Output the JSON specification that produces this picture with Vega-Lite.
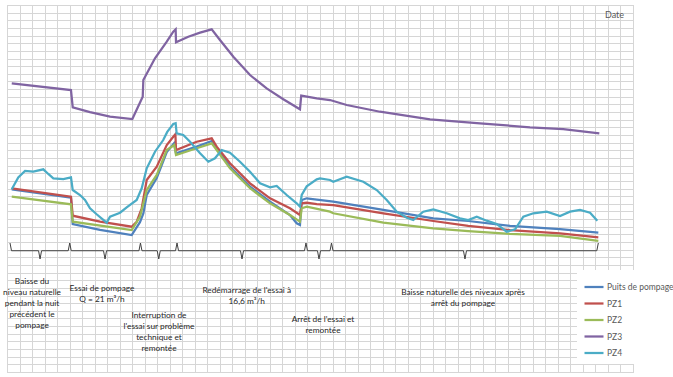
{
  "$schema": "https://vega.github.io/schema/vega-lite/v6.json",
  "width": 626,
  "height": 367,
  "autosize": {"type": "none"},
  "padding": {"left": 7, "top": 5, "right": 40, "bottom": 5},
  "background": "white",
  "config": {
    "view": {"stroke": "#c4c4c4", "strokeWidth": 1},
    "font": "Lato"
  },
  "datasets": {
    "series": [
      {"serie": "Puits de pompage", "t": 0.38, "niveau": 23.9},
      {"serie": "Puits de pompage", "t": 5.11, "niveau": 22.8},
      {"serie": "Puits de pompage", "t": 5.25, "niveau": 19.36},
      {"serie": "Puits de pompage", "t": 7.43, "niveau": 18.6},
      {"serie": "Puits de pompage", "t": 9.96, "niveau": 17.92},
      {"serie": "Puits de pompage", "t": 10.62, "niveau": 19.6},
      {"serie": "Puits de pompage", "t": 10.89, "niveau": 20.74},
      {"serie": "Puits de pompage", "t": 11.16, "niveau": 23.15},
      {"serie": "Puits de pompage", "t": 11.96, "niveau": 25.37},
      {"serie": "Puits de pompage", "t": 12.76, "niveau": 28.77},
      {"serie": "Puits de pompage", "t": 13.34, "niveau": 29.91},
      {"serie": "Puits de pompage", "t": 13.5, "niveau": 28.6},
      {"serie": "Puits de pompage", "t": 15.15, "niveau": 29.47},
      {"serie": "Puits de pompage", "t": 16.35, "niveau": 30.21},
      {"serie": "Puits de pompage", "t": 16.75, "niveau": 29.3},
      {"serie": "Puits de pompage", "t": 17.81, "niveau": 26.85},
      {"serie": "Puits de pompage", "t": 19.41, "niveau": 24.24},
      {"serie": "Puits de pompage", "t": 21.01, "niveau": 22.27},
      {"serie": "Puits de pompage", "t": 22.6, "niveau": 20.53},
      {"serie": "Puits de pompage", "t": 23.14, "niveau": 19.45},
      {"serie": "Puits de pompage", "t": 23.4, "niveau": 19.23},
      {"serie": "Puits de pompage", "t": 23.54, "niveau": 22.5},
      {"serie": "Puits de pompage", "t": 23.94, "niveau": 22.72},
      {"serie": "Puits de pompage", "t": 26.06, "niveau": 22.27},
      {"serie": "Puits de pompage", "t": 30.06, "niveau": 21.19},
      {"serie": "Puits de pompage", "t": 34.05, "niveau": 20.1},
      {"serie": "Puits de pompage", "t": 36.84, "niveau": 19.75},
      {"serie": "Puits de pompage", "t": 40.18, "niveau": 19.1},
      {"serie": "Puits de pompage", "t": 44.17, "niveau": 18.7},
      {"serie": "Puits de pompage", "t": 47.23, "niveau": 18.22},

      {"serie": "PZ1", "t": 0.38, "niveau": 24.03},
      {"serie": "PZ1", "t": 5.11, "niveau": 22.93},
      {"serie": "PZ1", "t": 5.25, "niveau": 20.44},
      {"serie": "PZ1", "t": 7.43, "niveau": 19.66},
      {"serie": "PZ1", "t": 9.96, "niveau": 19.0},
      {"serie": "PZ1", "t": 10.36, "niveau": 19.66},
      {"serie": "PZ1", "t": 10.76, "niveau": 21.41},
      {"serie": "PZ1", "t": 11.16, "niveau": 25.11},
      {"serie": "PZ1", "t": 11.96, "niveau": 26.85},
      {"serie": "PZ1", "t": 12.76, "niveau": 29.69},
      {"serie": "PZ1", "t": 13.28, "niveau": 30.77},
      {"serie": "PZ1", "t": 13.45, "niveau": 31.1},
      {"serie": "PZ1", "t": 13.5, "niveau": 29.03},
      {"serie": "PZ1", "t": 15.15, "niveau": 30.12},
      {"serie": "PZ1", "t": 16.35, "niveau": 30.56},
      {"serie": "PZ1", "t": 16.75, "niveau": 29.47},
      {"serie": "PZ1", "t": 17.81, "niveau": 27.3},
      {"serie": "PZ1", "t": 19.41, "niveau": 24.68},
      {"serie": "PZ1", "t": 21.01, "niveau": 22.72},
      {"serie": "PZ1", "t": 22.6, "niveau": 21.41},
      {"serie": "PZ1", "t": 23.4, "niveau": 20.53},
      {"serie": "PZ1", "t": 23.54, "niveau": 22.06},
      {"serie": "PZ1", "t": 23.94, "niveau": 22.14},
      {"serie": "PZ1", "t": 24.74, "niveau": 21.97},
      {"serie": "PZ1", "t": 26.06, "niveau": 21.84},
      {"serie": "PZ1", "t": 30.06, "niveau": 20.76},
      {"serie": "PZ1", "t": 34.05, "niveau": 19.75},
      {"serie": "PZ1", "t": 36.84, "niveau": 19.1},
      {"serie": "PZ1", "t": 40.18, "niveau": 18.57},
      {"serie": "PZ1", "t": 44.17, "niveau": 18.14},
      {"serie": "PZ1", "t": 47.23, "niveau": 17.62},

      {"serie": "PZ2", "t": 0.38, "niveau": 22.93},
      {"serie": "PZ2", "t": 5.11, "niveau": 21.93},
      {"serie": "PZ2", "t": 5.25, "niveau": 19.66},
      {"serie": "PZ2", "t": 9.96, "niveau": 18.57},
      {"serie": "PZ2", "t": 10.62, "niveau": 20.31},
      {"serie": "PZ2", "t": 11.16, "niveau": 23.8},
      {"serie": "PZ2", "t": 11.96, "niveau": 25.77},
      {"serie": "PZ2", "t": 12.76, "niveau": 29.03},
      {"serie": "PZ2", "t": 13.36, "niveau": 29.69},
      {"serie": "PZ2", "t": 13.5, "niveau": 28.38},
      {"serie": "PZ2", "t": 15.15, "niveau": 29.26},
      {"serie": "PZ2", "t": 16.35, "niveau": 29.91},
      {"serie": "PZ2", "t": 16.75, "niveau": 29.03},
      {"serie": "PZ2", "t": 17.81, "niveau": 26.64},
      {"serie": "PZ2", "t": 19.41, "niveau": 24.03},
      {"serie": "PZ2", "t": 21.01, "niveau": 22.06},
      {"serie": "PZ2", "t": 22.6, "niveau": 20.53},
      {"serie": "PZ2", "t": 23.4, "niveau": 19.66},
      {"serie": "PZ2", "t": 23.54, "niveau": 21.41},
      {"serie": "PZ2", "t": 23.94, "niveau": 21.62},
      {"serie": "PZ2", "t": 25.8, "niveau": 20.97},
      {"serie": "PZ2", "t": 26.06, "niveau": 20.76},
      {"serie": "PZ2", "t": 30.06, "niveau": 19.53},
      {"serie": "PZ2", "t": 34.05, "niveau": 18.79},
      {"serie": "PZ2", "t": 36.84, "niveau": 18.44},
      {"serie": "PZ2", "t": 40.18, "niveau": 18.05},
      {"serie": "PZ2", "t": 44.17, "niveau": 17.79},
      {"serie": "PZ2", "t": 47.23, "niveau": 17.14},

      {"serie": "PZ3", "t": 0.38, "niveau": 37.76},
      {"serie": "PZ3", "t": 5.11, "niveau": 36.88},
      {"serie": "PZ3", "t": 5.25, "niveau": 34.62},
      {"serie": "PZ3", "t": 6.63, "niveau": 34.0},
      {"serie": "PZ3", "t": 8.23, "niveau": 33.39},
      {"serie": "PZ3", "t": 10.01, "niveau": 33.09},
      {"serie": "PZ3", "t": 10.84, "niveau": 36.01},
      {"serie": "PZ3", "t": 10.89, "niveau": 38.19},
      {"serie": "PZ3", "t": 11.82, "niveau": 41.03},
      {"serie": "PZ3", "t": 12.76, "niveau": 43.2},
      {"serie": "PZ3", "t": 13.28, "niveau": 44.51},
      {"serie": "PZ3", "t": 13.47, "niveau": 44.82},
      {"serie": "PZ3", "t": 13.5, "niveau": 43.12},
      {"serie": "PZ3", "t": 14.48, "niveau": 43.85},
      {"serie": "PZ3", "t": 15.42, "niveau": 44.38},
      {"serie": "PZ3", "t": 16.35, "niveau": 44.82},
      {"serie": "PZ3", "t": 17.01, "niveau": 43.42},
      {"serie": "PZ3", "t": 18.08, "niveau": 41.24},
      {"serie": "PZ3", "t": 19.41, "niveau": 38.84},
      {"serie": "PZ3", "t": 20.74, "niveau": 37.1},
      {"serie": "PZ3", "t": 22.07, "niveau": 35.67},
      {"serie": "PZ3", "t": 23.4, "niveau": 34.36},
      {"serie": "PZ3", "t": 23.5, "niveau": 36.14},
      {"serie": "PZ3", "t": 24.74, "niveau": 35.8},
      {"serie": "PZ3", "t": 25.8, "niveau": 35.57},
      {"serie": "PZ3", "t": 27.13, "niveau": 34.92},
      {"serie": "PZ3", "t": 29.79, "niveau": 34.04},
      {"serie": "PZ3", "t": 33.79, "niveau": 33.05},
      {"serie": "PZ3", "t": 37.78, "niveau": 32.53},
      {"serie": "PZ3", "t": 41.77, "niveau": 32.0},
      {"serie": "PZ3", "t": 44.43, "niveau": 31.78},
      {"serie": "PZ3", "t": 47.31, "niveau": 31.22},

      {"serie": "PZ4", "t": 0.38, "niveau": 23.9},
      {"serie": "PZ4", "t": 0.9, "niveau": 25.46},
      {"serie": "PZ4", "t": 1.44, "niveau": 26.29},
      {"serie": "PZ4", "t": 2.1, "niveau": 26.2},
      {"serie": "PZ4", "t": 2.9, "niveau": 26.51},
      {"serie": "PZ4", "t": 3.3, "niveau": 25.9},
      {"serie": "PZ4", "t": 3.7, "niveau": 25.33},
      {"serie": "PZ4", "t": 4.5, "niveau": 25.24},
      {"serie": "PZ4", "t": 5.11, "niveau": 25.46},
      {"serie": "PZ4", "t": 5.25, "niveau": 23.8},
      {"serie": "PZ4", "t": 5.83, "niveau": 23.15},
      {"serie": "PZ4", "t": 6.23, "niveau": 22.5},
      {"serie": "PZ4", "t": 6.63, "niveau": 21.41},
      {"serie": "PZ4", "t": 7.16, "niveau": 20.63},
      {"serie": "PZ4", "t": 7.96, "niveau": 19.53},
      {"serie": "PZ4", "t": 8.23, "niveau": 20.31},
      {"serie": "PZ4", "t": 9.03, "niveau": 20.83},
      {"serie": "PZ4", "t": 9.56, "niveau": 21.54},
      {"serie": "PZ4", "t": 10.36, "niveau": 22.5},
      {"serie": "PZ4", "t": 10.76, "niveau": 24.03},
      {"serie": "PZ4", "t": 11.16, "niveau": 26.64},
      {"serie": "PZ4", "t": 11.82, "niveau": 28.81},
      {"serie": "PZ4", "t": 12.48, "niveau": 30.34},
      {"serie": "PZ4", "t": 12.8, "niveau": 31.4},
      {"serie": "PZ4", "t": 13.28, "niveau": 32.44},
      {"serie": "PZ4", "t": 13.47, "niveau": 32.53},
      {"serie": "PZ4", "t": 13.55, "niveau": 31.22},
      {"serie": "PZ4", "t": 14.08, "niveau": 31.0},
      {"serie": "PZ4", "t": 14.62, "niveau": 30.12},
      {"serie": "PZ4", "t": 15.42, "niveau": 28.6},
      {"serie": "PZ4", "t": 16.08, "niveau": 27.5},
      {"serie": "PZ4", "t": 16.61, "niveau": 27.95},
      {"serie": "PZ4", "t": 17.15, "niveau": 29.03},
      {"serie": "PZ4", "t": 17.81, "niveau": 28.68},
      {"serie": "PZ4", "t": 18.61, "niveau": 27.5},
      {"serie": "PZ4", "t": 19.41, "niveau": 26.2},
      {"serie": "PZ4", "t": 20.21, "niveau": 24.68},
      {"serie": "PZ4", "t": 21.01, "niveau": 24.16},
      {"serie": "PZ4", "t": 21.54, "niveau": 24.33},
      {"serie": "PZ4", "t": 22.34, "niveau": 23.15},
      {"serie": "PZ4", "t": 23.14, "niveau": 22.06},
      {"serie": "PZ4", "t": 23.4, "niveau": 21.62},
      {"serie": "PZ4", "t": 23.54, "niveau": 23.15},
      {"serie": "PZ4", "t": 23.94, "niveau": 24.3},
      {"serie": "PZ4", "t": 24.74, "niveau": 25.2},
      {"serie": "PZ4", "t": 25.0, "niveau": 25.33},
      {"serie": "PZ4", "t": 25.8, "niveau": 25.11},
      {"serie": "PZ4", "t": 26.06, "niveau": 24.89},
      {"serie": "PZ4", "t": 27.13, "niveau": 25.54},
      {"serie": "PZ4", "t": 28.46, "niveau": 24.89},
      {"serie": "PZ4", "t": 29.53, "niveau": 23.8},
      {"serie": "PZ4", "t": 30.33, "niveau": 22.5},
      {"serie": "PZ4", "t": 31.13, "niveau": 20.97},
      {"serie": "PZ4", "t": 31.93, "niveau": 20.18},
      {"serie": "PZ4", "t": 32.45, "niveau": 19.88},
      {"serie": "PZ4", "t": 33.25, "niveau": 20.97},
      {"serie": "PZ4", "t": 34.05, "niveau": 21.28},
      {"serie": "PZ4", "t": 35.12, "niveau": 20.76},
      {"serie": "PZ4", "t": 36.18, "niveau": 20.1},
      {"serie": "PZ4", "t": 36.84, "niveau": 19.88},
      {"serie": "PZ4", "t": 37.52, "niveau": 20.31},
      {"serie": "PZ4", "t": 38.31, "niveau": 19.79},
      {"serie": "PZ4", "t": 39.11, "niveau": 19.36},
      {"serie": "PZ4", "t": 39.91, "niveau": 18.35},
      {"serie": "PZ4", "t": 40.58, "niveau": 18.66},
      {"serie": "PZ4", "t": 41.24, "niveau": 20.31},
      {"serie": "PZ4", "t": 42.04, "niveau": 20.76},
      {"serie": "PZ4", "t": 43.11, "niveau": 20.97},
      {"serie": "PZ4", "t": 44.17, "niveau": 20.4},
      {"serie": "PZ4", "t": 44.97, "niveau": 20.97},
      {"serie": "PZ4", "t": 45.77, "niveau": 21.19},
      {"serie": "PZ4", "t": 46.57, "niveau": 20.83},
      {"serie": "PZ4", "t": 47.15, "niveau": 19.79}
    ],
    "accolades": [
      {"accolade": 1, "t": 0.24, "niveau": 16.87},
      {"accolade": 1, "t": 0.36, "niveau": 15.86},
      {"accolade": 1, "t": 2.52, "niveau": 15.86},
      {"accolade": 1, "t": 2.64, "niveau": 14.78},
      {"accolade": 1, "t": 2.76, "niveau": 15.86},
      {"accolade": 1, "t": 4.89, "niveau": 15.86},
      {"accolade": 1, "t": 5.01, "niveau": 16.87},
      {"accolade": 2, "t": 5.01, "niveau": 16.87},
      {"accolade": 2, "t": 5.13, "niveau": 15.86},
      {"accolade": 2, "t": 7.71, "niveau": 15.86},
      {"accolade": 2, "t": 7.83, "niveau": 14.78},
      {"accolade": 2, "t": 7.95, "niveau": 15.86},
      {"accolade": 2, "t": 10.54, "niveau": 15.86},
      {"accolade": 2, "t": 10.66, "niveau": 16.87},
      {"accolade": 3, "t": 10.66, "niveau": 16.87},
      {"accolade": 3, "t": 10.78, "niveau": 15.86},
      {"accolade": 3, "t": 12.0, "niveau": 15.86},
      {"accolade": 3, "t": 12.12, "niveau": 14.78},
      {"accolade": 3, "t": 12.24, "niveau": 15.86},
      {"accolade": 3, "t": 13.46, "niveau": 15.86},
      {"accolade": 3, "t": 13.58, "niveau": 16.87},
      {"accolade": 4, "t": 13.58, "niveau": 16.87},
      {"accolade": 4, "t": 13.7, "niveau": 15.86},
      {"accolade": 4, "t": 18.65, "niveau": 15.86},
      {"accolade": 4, "t": 18.77, "niveau": 14.78},
      {"accolade": 4, "t": 18.89, "niveau": 15.86},
      {"accolade": 4, "t": 23.76, "niveau": 15.86},
      {"accolade": 4, "t": 23.88, "niveau": 16.87},
      {"accolade": 5, "t": 23.88, "niveau": 16.87},
      {"accolade": 5, "t": 24.0, "niveau": 15.86},
      {"accolade": 5, "t": 24.8, "niveau": 15.86},
      {"accolade": 5, "t": 24.92, "niveau": 14.78},
      {"accolade": 5, "t": 25.04, "niveau": 15.86},
      {"accolade": 5, "t": 25.8, "niveau": 15.86},
      {"accolade": 5, "t": 25.92, "niveau": 16.87},
      {"accolade": 6, "t": 25.92, "niveau": 16.87},
      {"accolade": 6, "t": 26.04, "niveau": 15.86},
      {"accolade": 6, "t": 36.46, "niveau": 15.86},
      {"accolade": 6, "t": 36.58, "niveau": 14.78},
      {"accolade": 6, "t": 36.7, "niveau": 15.86},
      {"accolade": 6, "t": 47.11, "niveau": 15.86},
      {"accolade": 6, "t": 47.23, "niveau": 16.87}
    ],
    "notes": [
      {"t": 2.0, "niveau": 12.42, "texte": "Baisse du\nniveau naturelle\npendant la nuit\nprécédent le\npompage"},
      {"t": 7.59, "niveau": 11.57, "texte": "Essai de pompage\nQ = 21 m³/h"},
      {"t": 12.14, "niveau": 7.98, "texte": "Interruption de\nl'essai sur problème\ntechnique et\nremontée"},
      {"t": 19.15, "niveau": 11.31, "texte": "Redémarrage de l'essai à\n16,6 m³/h"},
      {"t": 25.24, "niveau": 7.39, "texte": "Arrêt de l'essai et\nremontée"},
      {"t": 36.42, "niveau": 11.01, "texte": "Baisse naturelle des niveaux après\narrêt du pompage"}
    ],
    "titre": [
      {"t": 47.76, "niveau": 46.69, "texte": "Date"}
    ]
  },
  "encoding": {
    "x": {
      "field": "t", "type": "quantitative",
      "scale": {"domain": [0, 50], "nice": false, "zero": false},
      "axis": {
        "values": [0,1,2,3,4,5,6,7,8,9,10,11,12,13,14,15,16,17,18,19,20,21,22,23,24,25,26,27,28,29,30,31,32,33,34,35,36,37,38,39,40,41,42,43,44,45,46,47,48,49,50],
        "grid": true, "gridColor": "#d6d6d6", "gridWidth": 1,
        "labels": false, "ticks": false, "domain": false, "title": null
      }
    },
    "y": {
      "field": "niveau", "type": "quantitative",
      "scale": {"domain": [0, 48], "nice": false, "zero": false},
      "axis": {
        "values": [0,1,2,3,4,5,6,7,8,9,10,11,12,13,14,15,16,17,18,19,20,21,22,23,24,25,26,27,28,29,30,31,32,33,34,35,36,37,38,39,40,41,42,43,44,45,46,47,48],
        "grid": true, "gridColor": "#d6d6d6", "gridWidth": 1,
        "labels": false, "ticks": false, "domain": false, "title": null
      }
    }
  },
  "layer": [
    {
      "data": {"name": "series"},
      "mark": {"type": "line", "strokeWidth": 2.25, "interpolate": "linear"},
      "encoding": {
        "color": {
          "field": "serie", "type": "nominal",
          "scale": {
            "domain": ["Puits de pompage", "PZ1", "PZ2", "PZ3", "PZ4"],
            "range": ["#4F81BD", "#C0504D", "#9BBB59", "#8064A2", "#4BACC6"]
          },
          "legend": {
            "title": null,
            "orient": "none",
            "legendX": 570,
            "legendY": 265,
            "symbolType": "stroke",
            "symbolSize": 361,
            "symbolStrokeWidth": 2.25,
            "labelFont": "Lato",
            "labelFontSize": 8.5,
            "labelColor": "#595959",
            "labelOffset": 2,
            "fillColor": "white",
            "padding": 6,
            "rowPadding": 0.5
          }
        }
      }
    },
    {
      "data": {"name": "accolades"},
      "mark": {"type": "line", "color": "#404040", "strokeWidth": 1},
      "encoding": {
        "detail": {"field": "accolade", "type": "nominal"}
      }
    },
    {
      "data": {"name": "notes"},
      "mark": {"type": "text", "align": "center", "baseline": "top", "lineBreak": "\n", "lineHeight": 11, "fontSize": 8.3, "font": "Lato", "color": "#262626"},
      "encoding": {
        "text": {"field": "texte", "type": "nominal"}
      }
    },
    {
      "data": {"name": "titre"},
      "mark": {"type": "text", "align": "left", "baseline": "middle", "fontSize": 9, "font": "Lato", "color": "#595959"},
      "encoding": {
        "text": {"field": "texte", "type": "nominal"}
      }
    }
  ]
}
